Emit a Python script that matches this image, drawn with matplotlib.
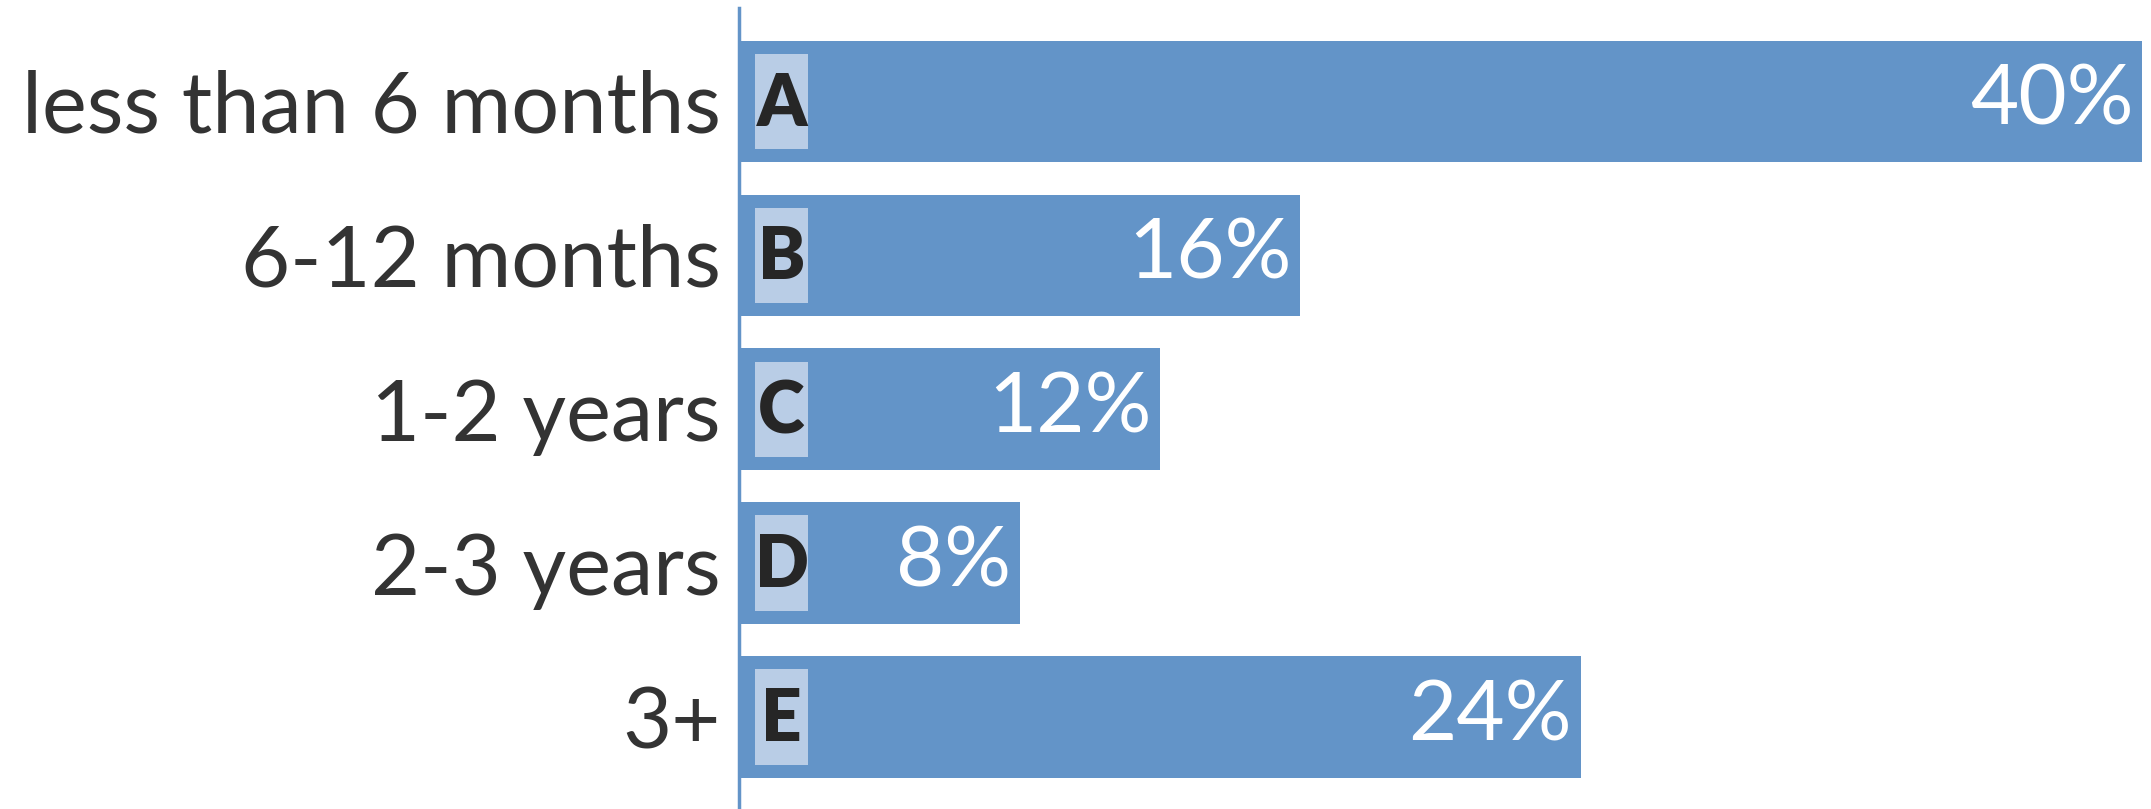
import matplotlib
matplotlib.use("Agg")
import matplotlib.pyplot as plt
from matplotlib.patches import Rectangle

plt.rcParams['font.family'] = ['Lato', 'DejaVu Sans']

categories = ["less than 6 months", "6-12 months", "1-2 years", "2-3 years", "3+"]
letters = ["A", "B", "C", "D", "E"]
values = [40, 16, 12, 8, 24]

barColor = '#6394c8'
boxColor = '#b9cde6'

fig = plt.figure(figsize=(21.51, 8.09), dpi=100)
ax = fig.add_axes([739 / 2151, 0, (2142 - 739) / 2151, 1])

ypos = list(range(len(categories)))
ax.barh(ypos, values, height=0.79, color=barColor)
ax.set_xlim(0, 40)
ax.set_ylim(4.597, -0.659)

ax.set_yticks(ypos)
ax.set_yticklabels(categories, fontsize=61, color='#333333')
ax.tick_params(axis='y', length=0, pad=13)
ax.set_xticks([])

for side in ['top', 'right', 'bottom']:
    ax.spines[side].set_visible(False)
ax.spines['left'].set_color(barColor)
ax.spines['left'].set_linewidth(2.5)
ax.spines['left'].set_bounds(4.597, -0.61)

# letter tags at the start of each bar
for i in range(len(categories)):
    ax.add_patch(Rectangle((0.46, ypos[i] - 0.31), 1.51, 0.62, facecolor=boxColor,
                           edgecolor='none', zorder=3))
    ax.text(1.215, ypos[i] + 0.02, letters[i], fontsize=51, fontweight='heavy', color='#262626',
            ha='center', va='center', zorder=4)
    ax.text(values[i] - 0.25, ypos[i], str(values[i]) + "%", fontsize=60, color='white',
            ha='right', va='center')

fig.savefig("out.png", dpi=100)
